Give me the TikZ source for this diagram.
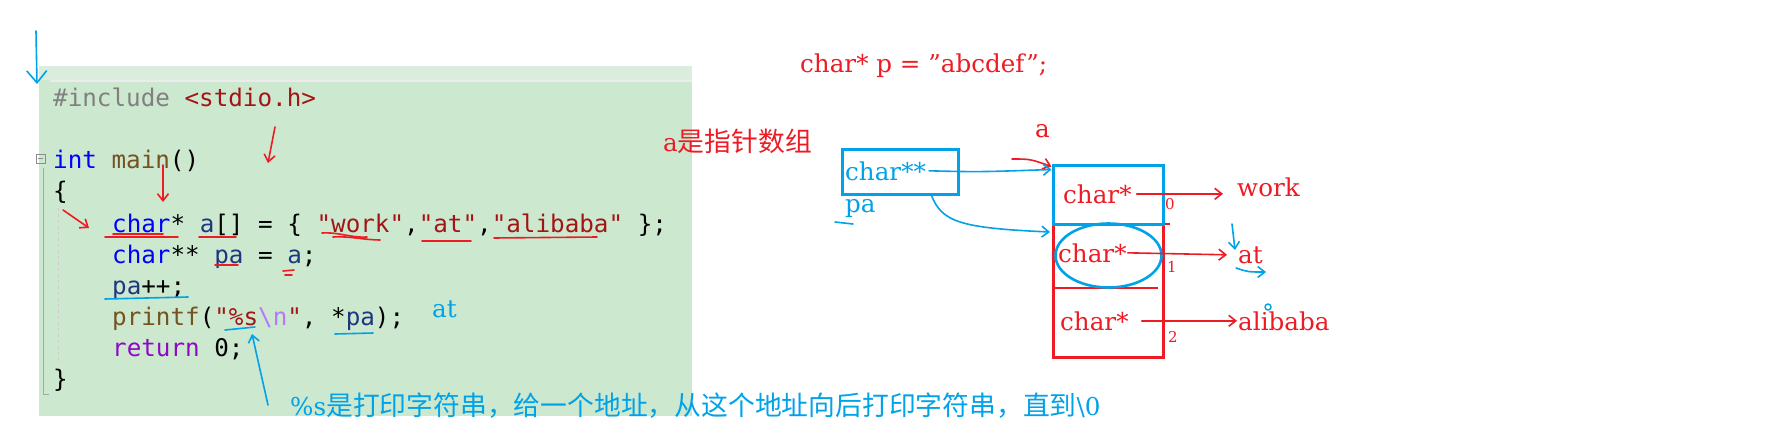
\documentclass[tikz,border=0pt]{standalone}
\usepackage{fontspec}
\usetikzlibrary{arrows.meta,shapes.geometric}
\newfontfamily\codefont{DejaVu Sans Mono}
\newfontfamily\latnfont{DejaVu Serif}
\newfontfamily\cjkfont{Noto Sans CJK SC}
\definecolor{codebg}{RGB}{204,232,207}
\definecolor{codetop}{RGB}{219,238,221}
\definecolor{vsgray}{RGB}{128,128,128}
\definecolor{vsstr}{RGB}{163,21,21}
\definecolor{vskw}{RGB}{0,0,255}
\definecolor{vsfn}{RGB}{116,83,31}
\definecolor{vsvar}{RGB}{31,55,127}
\definecolor{vsesc}{RGB}{183,118,251}
\definecolor{vsret}{RGB}{143,8,196}
\definecolor{inkred}{RGB}{237,28,36}
\definecolor{inkblue}{RGB}{0,162,232}
\newcommand{\tgray}[1]{{\color{vsgray}#1}}
\newcommand{\tstr}[1]{{\color{vsstr}#1}}
\newcommand{\tkw}[1]{{\color{vskw}#1}}
\newcommand{\tfn}[1]{{\color{vsfn}#1}}
\newcommand{\tvar}[1]{{\color{vsvar}#1}}
\newcommand{\tesc}[1]{{\color{vsesc}#1}}
\newcommand{\tret}[1]{{\color{vsret}#1}}
\newcommand{\zh}[1]{{\cjkfont\fontsize{26.8}{30}\selectfont #1}}
\begin{document}
\begin{tikzpicture}[x=1pt,y=-1pt,
  code/.style={anchor=base west, inner sep=0pt, font=\codefont\fontsize{24.25}{31}\selectfont},
  note/.style={anchor=base west, inner sep=0pt, font=\latnfont\fontsize{24.6}{28}\selectfont},
  idx/.style={inner sep=0pt, text=inkred, font=\latnfont\fontsize{15}{15}\selectfont},
  redpen/.style={draw=inkred, line width=1.6pt, line cap=round},
  bluepen/.style={draw=inkblue, line width=1.6pt, line cap=round},
  barb/.style={-{Straight Barb[length=7pt,width=11pt]}},
  cellbox/.style={line width=3pt, minimum width=110, inner sep=0pt}]
\useasboundingbox (0,0) rectangle (1776,444);
\fill[white] (0,0) rectangle (1776,444);
\fill[codebg] (39,66) rectangle (692,416);
\fill[codetop] (39,66) rectangle (692,80);
\draw[line width=2pt, black!8] (50,81) -- (692,81);
\draw[black!45] (36,154) rectangle (45,163);
\draw[black!45] (38,158.5) -- (43,158.5);
\draw[black!35] (43,168) -- (43,394) -- (49,394);
\draw[black!20, dashed] (58,208) -- (58,362);
\node[code] (l1) at (53,106) {\tgray{\#include} \tstr{<stdio.h>}};
\node[code] (l3) at (53,168) {\tkw{int} \tfn{main}()};
\node[code] (l4) at (53,199) {\{};
\node[code] (l5) at (112,232) {\tkw{char}* \tvar{a}[] = \{ \tstr{"work"},\tstr{"at"},\tstr{"alibaba"} \};};
\node[code] (l6) at (112,263) {\tkw{char}** \tvar{pa} = \tvar{a};};
\node[code] (l7) at (112,294) {\tvar{pa}++;};
\node[code] (l8) at (112,325) {\tfn{printf}(\tstr{"\%s}\tesc{\textbackslash n}\tstr{"}, *\tvar{pa});};
\node[code] (l9) at (112,356) {\tret{return} 0;};
\node[code] (l10) at (53,387) {\}};
\draw[bluepen, -{Straight Barb[length=12pt,width=20pt]}] (36,31) -- (37,84);
\draw[redpen, barb] (163,165) -- (163,202);
\draw[redpen, barb] (275,127) -- (268,163);
\draw[redpen, barb] (63,210) -- (89,228);
\draw[redpen] (105,237) -- (178,237);
\draw[redpen] (113,234) -- (163,234);
\draw[redpen] (199,237) -- (236,237);
\draw[redpen] (322,233) .. controls (340,232) and (350,238) .. (367,237);
\draw[redpen] (333,237) .. controls (350,236) and (365,240) .. (380,240);
\draw[redpen] (422,241) -- (471,241);
\draw[redpen] (494,238) -- (597,237);
\draw[redpen] (215,265) -- (238,265);
\draw[redpen] (283,271) -- (294,270);
\draw[redpen] (285,275) -- (292,275);
\draw[bluepen] (105,299) -- (188,297);
\draw[bluepen] (225,330) -- (255,327);
\draw[bluepen] (335,334) -- (373,333);
\draw[bluepen, barb] (268,405) -- (252,334);
\node[note, text=inkblue] (out) at (432,317) {at};
\node[note, text=inkblue] (expl) at (290,415) {\%s\zh{是打印字符串，给一个地址，从这个地址向后打印字符串，直到}\textbackslash 0};
\node[note, text=inkred] (decl) at (800,72) {char* p = ”abcdef”;};
\node[note, text=inkred] (arrnote) at (663,151) {a\zh{是指针数组}};
\node[note, text=inkred] (alabel) at (1035,137) {a};
\node[draw=inkblue, cellbox, minimum width=116, minimum height=45] (pbox) at (900,171.5) {};
\node[note, text=inkblue] (pp) at (845,180) {char**};
\node[note, text=inkblue] (palabel) at (845,212) {pa};
\draw[bluepen] (835,222) -- (853,224);
\node[draw=inkred, cellbox, minimum height=192] (arr) at (1108,261) {};
\draw[draw=inkred, line width=1.4pt] (1053,224) -- (1170,224);
\draw[draw=inkred, line width=1.4pt] (1053,288) -- (1158,288);
\node[draw=inkblue, cellbox, minimum height=59] (cell0) at (1108,194.5) {};
\node[draw=inkblue, line width=2.6pt, ellipse, inner sep=0pt, minimum width=106, minimum height=64] (sel) at (1108.5,255.5) {};
\node[note, text=inkred] (c0) at (1063,203) {char*};
\node[note, text=inkred] (c1) at (1058,262) {char*};
\node[note, text=inkred] (c2) at (1060,330) {char*};
\node[note, text=inkred] (w0) at (1237,196) {work};
\node[note, text=inkred] (w1) at (1238,263) {at};
\node[note, text=inkred] (w2) at (1238,330) {alibaba};
\node[idx] (i0) at (1170,204) {0};
\node[idx] (i1) at (1172,267) {1};
\node[idx] (i2) at (1173,337) {2};
\draw[redpen, barb, shorten >=14pt] ([xshift=5pt]c0.east) -- (w0.west |- c0.east);
\draw[redpen, barb] ([xshift=1pt]c1.east) -- ([xshift=-11pt]w1.west);
\draw[redpen, barb] ([xshift=13pt]c2.east) -- ([xshift=-1pt]w2.west);
\coordinate (ain) at (1012,159);
\coordinate (c1in) at (1050,232);
\draw[redpen, barb] (ain) .. controls (1030,159) .. ([yshift=-3pt]cell0.north west);
\draw[bluepen, barb] ([xshift=3pt]pp.east) .. controls (980,172) .. ([yshift=-6pt]cell0.north west);
\draw[bluepen, barb] ([xshift=-28pt]pbox.south east) .. controls (942,222) and (960,228) .. (c1in);
\draw[bluepen, barb] (1232,224) -- (1235,250);
\draw[bluepen, barb] (1236,268) .. controls (1248,272) .. (1266,272);
\draw[draw=inkblue, line width=1.4pt] (1268,307) circle[radius=3];
\end{tikzpicture}
\end{document}
